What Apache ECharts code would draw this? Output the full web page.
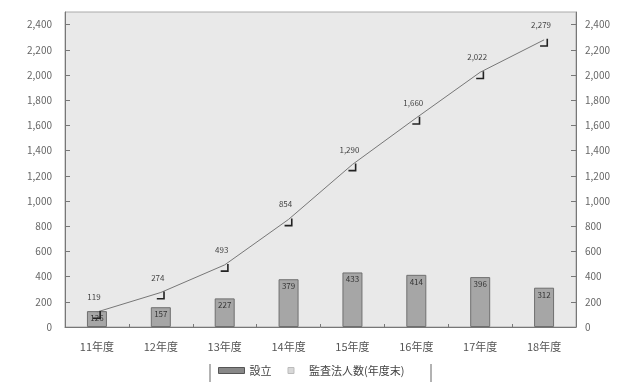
<!DOCTYPE html>
<html><head><meta charset="utf-8">
<script src="https://cdn.jsdelivr.net/npm/echarts@6/dist/echarts.min.js"></script>
<style>html,body{margin:0;padding:0;background:#fff}#c{width:632px;height:384px}</style>
</head><body><div id="c"></div>
<script>
const categories = ['11年度','12年度','13年度','14年度','15年度','16年度','17年度','18年度'];
const establishedValues = [126, 157, 227, 379, 433, 414, 396, 312];
const firmCountValues = [119, 274, 493, 854, 1290, 1660, 2022, 2279];
const seriesNames = ['設立', '監査法人数(年度末)'];

const FONT = '"Noto Sans CJK JP", "DejaVu Sans", sans-serif';
const fmt = v => v.toLocaleString('en-US');
const chart = echarts.init(document.getElementById('c'));
const yCommon = {
  type: 'value', min: 0, max: 2500, interval: 200,
  axisLine: {show: true, lineStyle: {color: '#777'}},
  axisTick: {show: true, inside: true, length: 5, lineStyle: {color: '#777'}},
  splitLine: {show: false},
  axisLabel: {fontFamily: FONT, fontSize: 10, color: '#666', showMaxLabel: false, formatter: fmt}
};
chart.setOption({
  animation: false,
  backgroundColor: '#fff',
  grid: {left: 65, right: 56, top: 12, bottom: 57, show: true, backgroundColor: '#e9e9e9', borderColor: '#aaa', borderWidth: 1},
  xAxis: {
    type: 'category', data: categories, boundaryGap: true,
    axisLine: {lineStyle: {color: '#777'}},
    axisTick: {show: true, inside: true, length: 3, lineStyle: {color: '#777'}},
    axisLabel: {fontFamily: FONT, fontSize: 11, color: '#555', margin: 14}
  },
  yAxis: [
    Object.assign({}, yCommon, {position: 'left', axisLabel: Object.assign({}, yCommon.axisLabel, {margin: 13})}),
    Object.assign({}, yCommon, {position: 'right', axisLabel: Object.assign({}, yCommon.axisLabel, {margin: 9})})
  ],
  legend: {
    bottom: 3, left: 213, itemGap: 16, itemWidth: 26, itemHeight: 6,
    textStyle: {fontFamily: FONT, fontSize: 11, color: '#444'},
    data: [
      {name: seriesNames[0], icon: 'rect', itemStyle: {color: '#888', borderColor: '#555', borderWidth: 1}},
      {name: seriesNames[1], icon: 'path://M0,0 L1,0 L1,1 L0,1 Z', itemStyle: {color: '#d8d8d8', borderColor: '#bbb', borderWidth: 1}}
    ]
  },
  graphic: [
    {type: 'line', shape: {x1: 210, y1: 364, x2: 210, y2: 382}, style: {stroke: '#666', lineWidth: 1}},
    {type: 'line', shape: {x1: 431, y1: 364, x2: 431, y2: 382}, style: {stroke: '#666', lineWidth: 1}}
  ],
  series: [
    {
      name: seriesNames[0], type: 'bar', yAxisIndex: 0, data: establishedValues, barWidth: 20,
      itemStyle: {color: '#a6a6a6', borderColor: '#6f6f6f', borderWidth: 1},
      label: {show: true, position: 'insideTop', distance: 3, fontFamily: FONT, fontSize: 8, color: '#333', formatter: p => fmt(p.value)}
    },
    {
      name: seriesNames[1], type: 'line', yAxisIndex: 1, data: firmCountValues,
      lineStyle: {color: '#777', width: 1},
      symbol: 'path://M8,0 L10,0 L10,10 L0,10 L0,8 L8,8 Z', symbolSize: 8, symbolOffset: [0, 3],
      itemStyle: {color: '#222'},
      label: {show: true, position: 'top', distance: 10, offset: [-3, 0], fontFamily: FONT, fontSize: 8, color: '#444', formatter: p => fmt(p.value)}
    }
  ]
});
</script></body></html>
